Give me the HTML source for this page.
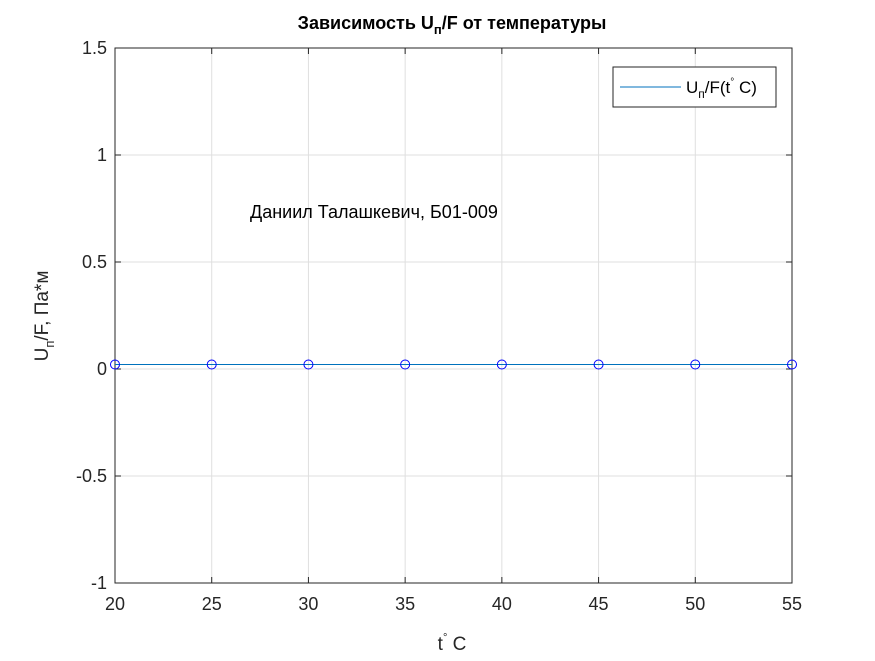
<!DOCTYPE html>
<html><head><meta charset="utf-8"><style>
body{margin:0;background:#fff;}
svg text{font-family:"Liberation Sans",sans-serif;}
</style></head><body>
<svg id="chart" width="875" height="656" xmlns="http://www.w3.org/2000/svg">
<rect width="875" height="656" fill="#fff"/>
<g id="grid"></g>
<g id="axes"></g>
<g id="series"></g>
<text x="452" y="29" text-anchor="middle" font-size="18" font-weight="bold">Зависимость U<tspan font-size="13" dy="5">п</tspan><tspan dy="-5">/F от температуры</tspan></text>
<text x="452" y="650" text-anchor="middle" font-size="19" fill="#262626">t<tspan font-size="11" dy="-9">°</tspan><tspan dy="9"> C</tspan></text>
<text transform="translate(48,316) rotate(-90)" text-anchor="middle" font-size="19" fill="#262626">U<tspan font-size="13" dy="6">п</tspan><tspan dy="-6">/F, Па*м</tspan></text>
<text x="250" y="218" font-size="18" fill="#000">Даниил Талашкевич, Б01-009</text>
<g>
<rect x="613" y="67" width="163" height="40" fill="#fff" stroke="#262626" stroke-width="1"/>
<line x1="620" y1="87" x2="681" y2="87" stroke="#0072BD" stroke-width="1"/>
<text x="686" y="93" font-size="17" fill="#000">U<tspan font-size="12" dy="5">п</tspan><tspan dy="-5">/F(t</tspan><tspan font-size="10" dy="-8">°</tspan><tspan dy="8"> C)</tspan></text>
</g>
</svg>
<script>
const temps=[20,25,30,35,40,45,50,55];
const values=[0.021,0.021,0.021,0.021,0.021,0.021,0.021,0.021];
const xTicks=[20,25,30,35,40,45,50,55];
const yTicks=[-1,-0.5,0,0.5,1,1.5];
const X0=115,X1=792,Y0=583,Y1=48;
const xs=v=>X0+(v-20)/(55-20)*(X1-X0);
const ys=v=>Y0-(v+1)/(2.5)*(Y0-Y1);
const NS='http://www.w3.org/2000/svg';
function mk(tag,attrs,parent){const e=document.createElementNS(NS,tag);for(const k in attrs)e.setAttribute(k,attrs[k]);parent.appendChild(e);return e;}
const g=document.getElementById('grid'),a=document.getElementById('axes'),s=document.getElementById('series');
mk('rect',{x:X0,y:Y1,width:X1-X0,height:Y0-Y1,fill:'none',stroke:'#262626','stroke-width':1},a);
xTicks.forEach(t=>{const x=xs(t);
 const l=mk('line',{x1:x,y1:Y1,x2:x,y2:Y0,stroke:'#dfdfdf','stroke-width':1},g);
 
 
 mk('line',{x1:x,y1:Y0,x2:x,y2:Y0-6,stroke:'#262626'},a);
 mk('line',{x1:x,y1:Y1,x2:x,y2:Y1+6,stroke:'#262626'},a);
 const tx=mk('text',{x:x,y:Y0+27,'text-anchor':'middle','font-size':18,fill:'#262626'},a);
 tx.textContent=t;
 
 
});
yTicks.forEach(t=>{const y=ys(t);
 const l=mk('line',{x1:X0,y1:y,x2:X1,y2:y,stroke:'#dfdfdf','stroke-width':1},g);
 
 
 mk('line',{x1:X0,y1:y,x2:X0+6,y2:y,stroke:'#262626'},a);
 mk('line',{x1:X1,y1:y,x2:X1-6,y2:y,stroke:'#262626'},a);
 const tx=mk('text',{x:X0-8,y:y+6,'text-anchor':'end','font-size':18,fill:'#262626'},a);
 tx.textContent=t;
 
 
});
const pl=mk('polyline',{points:temps.map((t,i)=>xs(t)+','+ys(values[i])).join(' '),fill:'none',stroke:'#0072BD','stroke-width':1},s);


temps.forEach((t,i)=>{
 const c=mk('circle',{cx:xs(t),cy:ys(values[i]),r:4.5,fill:'none',stroke:'#0000ff','stroke-width':1},s);
 
 
});
</script>
</body></html>
